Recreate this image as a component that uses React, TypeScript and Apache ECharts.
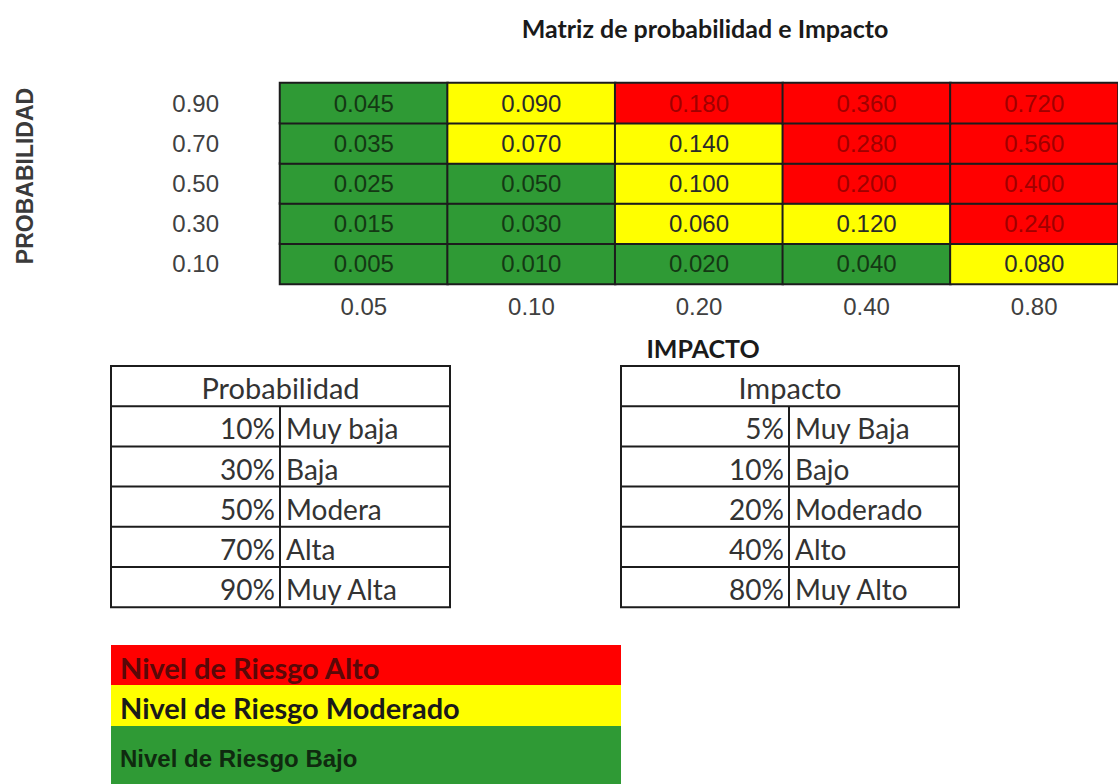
import React, { useEffect, useRef } from "react";
import * as echarts from "echarts";

// ---- data ----
const impactLabels = ["0.05", "0.10", "0.20", "0.40", "0.80"];
const probabilityLabels = ["0.10", "0.30", "0.50", "0.70", "0.90"];
const riskRow010 = [0.005, 0.01, 0.02, 0.04, 0.08];
const riskRow030 = [0.015, 0.03, 0.06, 0.12, 0.24];
const riskRow050 = [0.025, 0.05, 0.1, 0.2, 0.4];
const riskRow070 = [0.035, 0.07, 0.14, 0.28, 0.56];
const riskRow090 = [0.045, 0.09, 0.18, 0.36, 0.72];
const riskRows = [riskRow010, riskRow030, riskRow050, riskRow070, riskRow090];

const probPercents = ["10%", "30%", "50%", "70%", "90%"];
const probNames = ["Muy baja", "Baja", "Modera", "Alta", "Muy Alta"];
const impactPercents = ["5%", "10%", "20%", "40%", "80%"];
const impactNames = ["Muy Baja", "Bajo", "Moderado", "Alto", "Muy Alto"];
const legendLabels = ["Nivel de Riesgo Alto", "Nivel de Riesgo Moderado", "Nivel de Riesgo Bajo"];

const GREEN = "#2f9a35";
const YELLOW = "#ffff00";
const RED = "#ff0000";
const LINE = "#1c1c1c";
const TXT = "#333333";
const CAL = "Lato, 'Open Sans', sans-serif";
const ARIAL = "'Liberation Sans', Arial, sans-serif";

function levelOf(v: number) {
  if (v <= 0.05) return 0;
  if (v < 0.17) return 1;
  return 2;
}
const labelColors = ["#143814", "#2a2a2a", "#a00000"];

function buildTable(x0: number, xm: number, x1: number, y0: number, rowH: number, header: string, pcts: string[], names: string[]) {
  const els: any[] = [];
  const n = pcts.length + 1;
  const y1 = y0 + rowH * n;
  els.push({ type: "rect", shape: { x: x0, y: y0, width: x1 - x0, height: y1 - y0 }, style: { fill: "#fff", stroke: LINE, lineWidth: 2 } });
  for (let i = 1; i < n; i++) {
    els.push({ type: "line", shape: { x1: x0, y1: y0 + rowH * i, x2: x1, y2: y0 + rowH * i }, style: { stroke: LINE, lineWidth: 2 } });
  }
  els.push({ type: "line", shape: { x1: xm, y1: y0 + rowH, x2: xm, y2: y1 }, style: { stroke: LINE, lineWidth: 2 } });
  els.push({ type: "text", style: { text: header, x: (x0 + x1) / 2, y: y0 + rowH / 2 + 1, textAlign: "center", textVerticalAlign: "middle", font: `29px ${CAL}`, fill: TXT } });
  pcts.forEach((p, i) => {
    const cy = y0 + rowH * (i + 1) + rowH / 2 + 2;
    els.push({ type: "text", style: { text: p, x: xm - 5, y: cy, textAlign: "right", textVerticalAlign: "middle", font: `28px ${CAL}`, fill: TXT } });
    els.push({ type: "text", style: { text: names[i], x: xm + 6, y: cy, textAlign: "left", textVerticalAlign: "middle", font: `28px ${CAL}`, fill: TXT } });
  });
  return els;
}

export default function App() {
  const ref = useRef<HTMLDivElement>(null);
  useEffect(() => {
    if (!ref.current) return;
    const chart = echarts.init(ref.current, undefined, { renderer: "svg" });
    const data: any[] = [];
    riskRows.forEach((row, yi) => {
      row.forEach((v, xi) => {
        data.push({ value: [xi, yi, v], label: { color: labelColors[levelOf(v)] } });
      });
    });

    const legendColors = [RED, YELLOW, GREEN];
    const legendTextColors = ["#5a0808", "#1a1a1a", "#0f2a0f"];
    const legendFonts = [`bold 29px ${CAL}`, `bold 29px ${CAL}`, `bold 24px ${ARIAL}`];
    const legendTops = [645, 685, 726];
    const legendHeights = [40, 41, 60];
    const legendTextY = [667, 707, 758];

    const graphic: any[] = [
      { type: "text", style: { text: "Matriz de probabilidad e Impacto", x: 705, y: 28, textAlign: "center", textVerticalAlign: "middle", font: `bold 25px ${CAL}`, fill: "#1a1a1a" } },
      { type: "text", rotation: Math.PI / 2, x: 25, y: 176, style: { text: "PROBABILIDAD", x: 0, y: 0, textAlign: "center", textVerticalAlign: "middle", font: `bold 23px ${ARIAL}`, fill: "#3a3a3a" } },
      { type: "text", style: { text: "IMPACTO", x: 703, y: 348, textAlign: "center", textVerticalAlign: "middle", font: `bold 25px ${CAL}`, fill: "#1a1a1a" } },
      ...buildTable(111, 280, 450, 366, 40.2, "Probabilidad", probPercents, probNames),
      ...buildTable(621, 789, 959, 366, 40.2, "Impacto", impactPercents, impactNames),
    ];
    legendLabels.forEach((t, i) => {
      graphic.push({ type: "rect", shape: { x: 111, y: legendTops[i], width: 510, height: legendHeights[i] }, style: { fill: legendColors[i] } });
    });
    legendLabels.forEach((t, i) => {
      graphic.push({ type: "text", style: { text: t, x: 120, y: legendTextY[i], textAlign: "left", textVerticalAlign: "middle", font: legendFonts[i], fill: legendTextColors[i] } });
    });

    chart.setOption({
      animation: false,
      backgroundColor: "#ffffff",
      grid: { left: 280, top: 83, width: 848, height: 201 },
      xAxis: {
        type: "category",
        data: impactLabels,
        axisLine: { show: false },
        axisTick: { show: false },
        splitArea: { show: false },
        axisLabel: { margin: 10, fontSize: 24, fontFamily: ARIAL, color: "#404040" },
      },
      yAxis: {
        type: "category",
        data: probabilityLabels,
        axisLine: { show: false },
        axisTick: { show: false },
        splitArea: { show: false },
        axisLabel: { margin: 61, fontSize: 24, fontFamily: ARIAL, color: "#404040" },
      },
      visualMap: {
        type: "piecewise",
        show: false,
        dimension: 2,
        pieces: [
          { lte: 0.05, color: GREEN },
          { gt: 0.05, lt: 0.17, color: YELLOW },
          { gte: 0.17, color: RED },
        ],
      },
      series: [
        {
          type: "heatmap",
          data,
          itemStyle: { borderColor: LINE, borderWidth: 2 },
          label: {
            show: true,
            fontSize: 24,
            fontFamily: ARIAL,
            formatter: (p: any) => Number(p.value[2]).toFixed(3),
          },
          emphasis: { disabled: true },
        },
      ],
      graphic,
    });
    return () => chart.dispose();
  }, []);
  return <div ref={ref} style={{ position: "fixed", left: 0, top: 0, width: 1118, height: 784, background: "#fff" }} />;
}
